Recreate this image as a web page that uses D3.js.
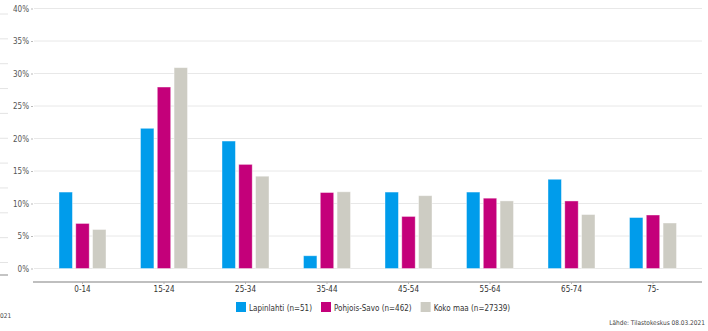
<!DOCTYPE html>
<html><head><meta charset="utf-8">
<script src="https://cdn.jsdelivr.net/npm/d3@7"></script>
<style>html,body{margin:0;padding:0;background:#fff;}svg{display:block;}</style>
</head><body>
<script>
const categories = ["0-14","15-24","25-34","35-44","45-54","55-64","65-74","75-"];
const seriesNames = ["Lapinlahti (n=51)","Pohjois-Savo (n=462)","Koko maa (n=27339)"];
const lapinlahti = [11.76,21.57,19.61,1.96,11.76,11.76,13.73,7.84];
const pohjoisSavo = [6.93,27.92,16.02,11.69,8.01,10.82,10.39,8.23];
const kokoMaa = [6.0,30.9,14.2,11.8,11.2,10.4,8.3,7.0];
const yTicks = [0,5,10,15,20,25,30,35,40];
const colors = ["#009ceb","#c4007a","#cdccc3"];
const source = "Lähde: Tilastokeskus 08.03.2021";

const W=708,H=331;
const svg=d3.select("body").append("svg").attr("width",W).attr("height",H);
const font="DejaVu Sans Condensed, DejaVu Sans, sans-serif";

// stray artifacts on the left edge
const strayY = d3.range(11).map(i=>14+i*24.85);
svg.selectAll("line.stray").data(strayY).enter().append("line")
  .attr("x1",0).attr("x2",8).attr("y1",d=>d).attr("y2",d=>d)
  .attr("stroke","#e4e4e4").attr("stroke-width",1);
svg.append("line").attr("x1",0).attr("x2",8).attr("y1",275).attr("y2",275)
  .attr("stroke","#b0b0b0").attr("stroke-width",1.5);
svg.append("text").attr("x",0).attr("y",318).text("021")
  .attr("font-family",font).attr("font-size",6.5).attr("fill","#444");

const y=d3.scaleLinear().domain([0,40]).range([268.5,8.5]);
const x=d3.scaleBand().domain(categories).range([41.75,693.75]);
const xs=d3.scaleBand().domain([0,1,2]).range([-23.5,23.5]).paddingInner(0.2);

// grid
svg.selectAll("line.grid").data(yTicks).enter().append("line")
  .attr("x1",34).attr("x2",702).attr("y1",d=>y(d)).attr("y2",d=>y(d))
  .attr("stroke","#e8e8e8").attr("stroke-width",1);

// y axis
const yAxis=d3.axisLeft(y).tickValues(yTicks).tickFormat(d=>d+"%").tickSize(2).tickPadding(2);
const ga=svg.append("g").attr("transform","translate(33,0)").call(yAxis);
ga.select(".domain").remove();
ga.selectAll(".tick line").attr("stroke","#bbb");
ga.selectAll("text").attr("font-family",font).attr("font-size",8).attr("fill","#555");

// bars
const series=[lapinlahti,pohjoisSavo,kokoMaa];
series.forEach((vals,si)=>{
  svg.selectAll("rect.s"+si).data(vals).enter().append("rect")
    .attr("x",(d,i)=>x(categories[i])+x.bandwidth()/2+xs(si))
    .attr("width",xs.bandwidth())
    .attr("y",d=>y(d)).attr("height",d=>y(0)-y(d))
    .attr("fill",colors[si]).attr("stroke","#fff").attr("stroke-opacity",0.5).attr("stroke-width",0.8);
});

// x axis
const xAxis=d3.axisBottom(x).tickSize(2).tickPadding(2);
const gx=svg.append("g").attr("transform","translate(0,282)").call(xAxis);
gx.select(".domain").remove();
svg.append("line").attr("x1",33).attr("x2",702).attr("y1",282).attr("y2",282)
  .attr("stroke","#aaa").attr("stroke-width",1.5);
gx.selectAll(".tick line").attr("stroke","#bbb");
gx.selectAll("text").attr("font-family",font).attr("font-size",8).attr("fill","#333");

// legend
const lg=svg.append("g");
let lx=236;
seriesNames.forEach((n,i)=>{
  lg.append("rect").attr("x",lx).attr("y",302).attr("width",10).attr("height",10).attr("fill",colors[i]);
  const t=lg.append("text").attr("x",lx+13).attr("y",310.5).text(n)
    .attr("font-family",font).attr("font-size",8).attr("fill","#333");
  lx+=13+t.node().getComputedTextLength()+9;
});

svg.append("text").attr("x",705).attr("y",325).attr("text-anchor","end").text(source)
  .attr("font-family",font).attr("font-size",6.5).attr("fill","#444");
</script>
</body></html>
